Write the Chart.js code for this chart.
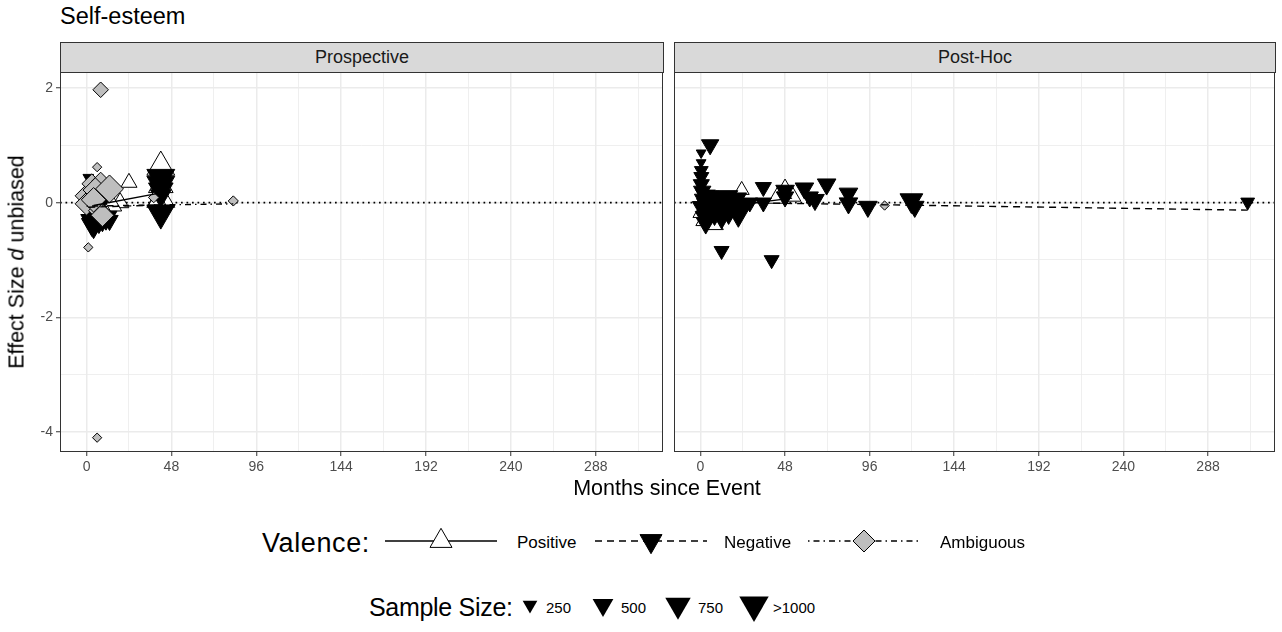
<!DOCTYPE html>
<html>
<head>
<meta charset="utf-8">
<script src="https://cdn.jsdelivr.net/npm/chart.js@4.4.1/dist/chart.umd.min.js"></script>
<style>
    body { margin: 0; background: #fff; font-family: "Liberation Sans", Arial, sans-serif; }
    #wrap { position: relative; width: 1282px; height: 632px; overflow: hidden; }
    .abs { position: absolute; white-space: nowrap; }
    #title { left: 60px; top: 3px; font-size: 23.5px; color: #000; }
    .strip { position: absolute; top: 42px; height: 31px; background: #D9D9D9; border: 1px solid #333;
             box-sizing: border-box; font-size: 18px; color: #1A1A1A;
             display: flex; align-items: center; justify-content: center; }
    .panel { position: absolute; top: 72px; }
    #ytitle { left: 17px; top: 262px; font-size: 21.5px; transform: translate(-50%, -50%) rotate(-90deg); }
    #xtitle { left: 667px; top: 488px; font-size: 21.5px; transform: translate(-50%, -50%); }
    .legTitle { font-size: 24px; color: #000; transform: translateY(-50%); }
    .legText { font-size: 17px; color: #000; transform: translateY(-50%); }
    .legKey { position: absolute; transform: translateY(-50%); }
</style>
</head>
<body>
<div id="wrap">
    <div id="title" class="abs">Self-esteem</div>
    <div class="strip" style="left:60px;width:604px;">Prospective</div>
    <div class="strip" style="left:674px;width:602px;">Post-Hoc</div>
    <div class="panel" style="left:0px;"><canvas id="leftChart" width="670" height="412"></canvas></div>
    <div class="panel" style="left:663px;"><canvas id="rightChart" width="619" height="412"></canvas></div>
    <div id="ytitle" class="abs">Effect Size <i>d</i> unbiased</div>
    <div id="xtitle" class="abs">Months since Event</div>
    <div id="legend"></div>
</div>
<script>
// axis setup
const xLimits = [-15, 326];
const yLimits = [-4.35, 2.28];
const xMajorTicks = [0, 48, 96, 144, 192, 240, 288];
const xMinorTicks = [24, 72, 120, 168, 216, 264, 312];
const yMajorTicks = [-4, -2, 0, 2];
const yMinorTicks = [-3, -1, 1];
const referenceY = 0;

// legend
const valenceLabels = ['Positive', 'Negative', 'Ambiguous'];
const sizeBreaks = [250, 500, 750, 1000];
const sizeLabels = ['250', '500', '750', '>1000'];

// Prospective panel: [months, d, sample size]
const prosPositive = [
    [24, 0.35, 300], [42, 0.62, 900], [42, 0.30, 700], [42, 0.06, 900], [40, 0.02, 450],
    [19, 0.00, 350], [14, -0.04, 500], [5, 0.12, 400], [10, -0.12, 300]
];
const prosNegative = [
    [1, 0.44, 130], [2, -0.30, 400], [3, -0.38, 500], [4, -0.44, 400], [5, -0.34, 550],
    [6, -0.27, 400], [7, -0.40, 220], [9, -0.32, 400], [11, -0.26, 550], [13, -0.31, 350],
    [8, 0.04, 600], [42, 0.44, 900], [42, 0.32, 900], [42, 0.22, 700], [42, 0.12, 500],
    [42, -0.18, 900]
];
const prosAmbiguous = [
    [8, 1.97, 280], [6, 0.62, 100], [1, -0.78, 100], [6, -4.10, 100], [83, 0.03, 120],
    [38, 0.09, 130], [0, 0.12, 600], [0, -0.02, 600], [3, 0.33, 450], [8, 0.38, 350],
    [5, 0.22, 700], [13, 0.24, 900], [7, -0.14, 500], [9, -0.22, 600], [4, 0.05, 700]
];
const prosFitPositive = [[4, -0.05], [42, 0.17]];
const prosFitNegative = [[1, -0.08], [42, -0.04]];
const prosFitAmbiguous = [[0, -0.06], [83, -0.02]];

// Post-Hoc panel
const postPositive = [
    [0.7, -0.17, 350], [3, -0.30, 450], [7.4, -0.37, 450], [10, -0.20, 300], [23.4, 0.22, 260],
    [44, 0.09, 450], [48, 0.25, 300], [51.7, 0.12, 400]
];
const postNegative = [
    [0.4, 0.87, 110], [0.4, 0.70, 110], [0.5, 0.56, 220], [0.5, 0.45, 260], [0.5, 0.32, 300],
    [1, 0.20, 350], [1.5, 0.06, 350], [1, -0.08, 450], [2, -0.24, 350], [3, -0.36, 400],
    [3, 0.12, 450], [4, -0.04, 550], [5.5, 1.01, 350], [5, 0.10, 450], [6, -0.14, 550],
    [7, 0.00, 550], [8, -0.20, 450], [9, 0.08, 600], [10, -0.10, 600], [12, -0.26, 450],
    [12, 0.06, 600], [14, -0.04, 600], [15, 0.10, 550], [16, -0.15, 600], [18, 0.00, 600],
    [20, 0.06, 550], [21.5, -0.20, 600], [24, -0.05, 450], [12, -0.84, 260], [28, 0.00, 300],
    [35.7, 0.27, 300], [35.7, 0.00, 300], [40.4, -1.00, 260], [48, 0.21, 400], [48, 0.10, 350],
    [59, 0.25, 400], [62, 0.10, 350], [65, 0.05, 400], [71.6, 0.32, 400], [84, 0.16, 400],
    [84, -0.01, 400], [95, -0.07, 400], [119.7, 0.04, 600], [121.6, -0.07, 400], [310.5, 0.01, 220]
];
const postAmbiguous = [[104.5, -0.05, 100]];
const postFitPositive = [[0.7, -0.12], [52, 0.08]];
const postFitNegative = [[0.4, 0.01], [310.5, -0.13]];

const keyWidth = n => 0.93 * Math.sqrt(n);
const dashed = [7, 5];
const dotdash = [1.5, 4, 6, 4];

function pointSet(rows, style, rotation, fill, order) {
    return {
        data: rows.map(r => ({ x: r[0], y: r[1], n: r[2] })),
        pointStyle: style,
        pointRotation: rotation,
        pointBackgroundColor: fill,
        pointBorderColor: '#000',
        pointBorderWidth: 1,
        pointRadius: ctx => style === 'triangle'
            ? keyWidth(ctx.raw.n) / Math.sqrt(3)
            : keyWidth(ctx.raw.n) / 2,
        order: order
    };
}

function fitSet(rows, dash) {
    return {
        data: rows.map(r => ({ x: r[0], y: r[1] })),
        showLine: true,
        borderColor: '#000',
        borderWidth: 1.4,
        borderDash: dash,
        pointRadius: 0,
        order: 0
    };
}

const refSet = {
    data: [{ x: xLimits[0], y: referenceY }, { x: xLimits[1], y: referenceY }],
    showLine: true,
    borderColor: '#000',
    borderWidth: 1.7,
    borderDash: [1.7, 3.8],
    pointRadius: 0,
    order: 5
};

const panelBorder = {
    id: 'panelBorder',
    afterDraw(chart) {
        const a = chart.chartArea, c = chart.ctx;
        c.save();
        c.strokeStyle = '#333';
        c.lineWidth = 1;
        c.strokeRect(a.left + 0.5, a.top + 0.5, a.width - 1, a.height - 1);
        c.restore();
    }
};

function tickList(major, minor) {
    return scale => {
        scale.ticks = major.concat(minor).sort((a, b) => a - b).map(v => ({ value: v }));
    };
}

function makePanel(canvasId, datasets, showY, padding) {
    const tickFont = { family: 'Liberation Sans', size: 14 };
    return new Chart(document.getElementById(canvasId), {
        type: 'scatter',
        data: { datasets },
        plugins: [panelBorder],
        options: {
            responsive: false,
            animation: false,
            events: [],
            layout: { padding, autoPadding: false },
            plugins: { legend: { display: false }, tooltip: { enabled: false } },
            scales: {
                x: {
                    type: 'linear', min: xLimits[0], max: xLimits[1],
                    afterBuildTicks: tickList(xMajorTicks, xMinorTicks),
                    afterFit: s => { s.height = 32; s.paddingLeft = 0; s.paddingRight = 0; },
                    border: { display: false },
                    grid: {
                        color: '#EBEBEB',
                        lineWidth: ctx => ctx.tick && xMajorTicks.includes(ctx.tick.value) ? 1.5 : 0.8,
                        tickColor: ctx => ctx.tick && xMajorTicks.includes(ctx.tick.value) ? '#333' : 'rgba(0,0,0,0)',
                        tickWidth: 1,
                        tickLength: 4
                    },
                    ticks: {
                        autoSkip: false, maxRotation: 0, padding: 3, color: '#4D4D4D', font: tickFont,
                        callback: v => xMajorTicks.includes(v) ? String(v) : ''
                    }
                },
                y: {
                    type: 'linear', min: yLimits[0], max: yLimits[1],
                    afterBuildTicks: tickList(yMajorTicks, yMinorTicks),
                    afterFit: s => { s.width = showY ? 60 : 0; s.paddingTop = 0; s.paddingBottom = 0; },
                    border: { display: false },
                    grid: {
                        color: '#EBEBEB',
                        lineWidth: ctx => ctx.tick && yMajorTicks.includes(ctx.tick.value) ? 1.5 : 0.8,
                        tickColor: ctx => ctx.tick && yMajorTicks.includes(ctx.tick.value) ? '#333' : 'rgba(0,0,0,0)',
                        tickWidth: 1,
                        tickLength: 4,
                        drawTicks: showY
                    },
                    ticks: {
                        display: showY, autoSkip: false, padding: 3, color: '#4D4D4D', font: tickFont,
                        callback: v => yMajorTicks.includes(v) ? String(v) : ''
                    }
                }
            }
        }
    });
}

makePanel('leftChart', [
    fitSet(prosFitPositive, []),
    fitSet(prosFitNegative, dashed),
    fitSet(prosFitAmbiguous, dotdash),
    pointSet(prosAmbiguous, 'rectRot', 0, '#BEBEBE', 1),
    pointSet(prosNegative, 'triangle', 180, '#000', 2),
    pointSet(prosPositive, 'triangle', 0, '#fff', 3),
    refSet
], true, { top: 0, right: 7, bottom: 0, left: 0 });

makePanel('rightChart', [
    fitSet(postFitPositive, []),
    fitSet(postFitNegative, dashed),
    pointSet(postAmbiguous, 'rectRot', 0, '#BEBEBE', 1),
    pointSet(postNegative, 'triangle', 180, '#000', 2),
    pointSet(postPositive, 'triangle', 0, '#fff', 3),
    refSet
], false, { top: 0, right: 7, bottom: 0, left: 11 });

// legend rows (html + svg keys)
const legend = document.getElementById('legend');
function addText(cls, text, left, top, extra) {
    const el = document.createElement('div');
    el.className = 'abs ' + cls;
    el.style.left = left + 'px';
    el.style.top = top + 'px';
    if (extra) el.style.cssText += extra;
    el.textContent = text;
    legend.appendChild(el);
}
function addSvg(inner, left, top, w, h) {
    const el = document.createElement('div');
    el.className = 'legKey';
    el.style.left = left + 'px';
    el.style.top = top + 'px';
    el.innerHTML = `<svg width="${w}" height="${h}">${inner}</svg>`;
    legend.appendChild(el);
}

const rowA = 543, rowB = 607;
addText('legTitle', 'Valence:', 262, rowA, 'font-size:27px;letter-spacing:0.6px;');
const valenceKeys = [
    `<line x1="0" y1="15" x2="112" y2="15" stroke="#000" stroke-width="1.4"/>
     <polygon points="45,21.4 67,21.4 56,2.3" fill="#fff" stroke="#000" stroke-width="1"/>`,
    `<line x1="0" y1="15" x2="112" y2="15" stroke="#000" stroke-width="1.4" stroke-dasharray="7 5"/>
     <polygon points="45,8.6 67,8.6 56,27.7" fill="#000" stroke="#000" stroke-width="1"/>`,
    `<line x1="0" y1="15" x2="112" y2="15" stroke="#000" stroke-width="1.4" stroke-dasharray="1.5 4 6 4"/>
     <polygon points="56,4 67,15 56,26 45,15" fill="#BEBEBE" stroke="#000" stroke-width="1"/>`
];
const valenceKeyLeft = [385, 595, 808];
const valenceTextLeft = [517, 724, 940];
valenceLabels.forEach((lab, i) => {
    addSvg(valenceKeys[i], valenceKeyLeft[i], rowA, 112, 30);
    addText('legText', lab, valenceTextLeft[i], rowA);
});

addText('legTitle', 'Sample Size:', 369, rowB, 'font-size:25px;letter-spacing:-0.3px;');
const sizeKeyCenter = [530, 603, 678, 754];
const sizeTextLeft = [546, 621, 698, 773];
sizeBreaks.forEach((n, i) => {
    const w = keyWidth(n), r = w / Math.sqrt(3);
    const c = 18;
    const pts = `${c - w / 2},${c - r / 2} ${c + w / 2},${c - r / 2} ${c},${c + r}`;
    addSvg(`<polygon points="${pts}" fill="#000"/>`, sizeKeyCenter[i] - c, rowB, 36, 36);
    addText('legText', sizeLabels[i], sizeTextLeft[i], rowB, 'font-size:15px;');
});
</script>
</body>
</html>
